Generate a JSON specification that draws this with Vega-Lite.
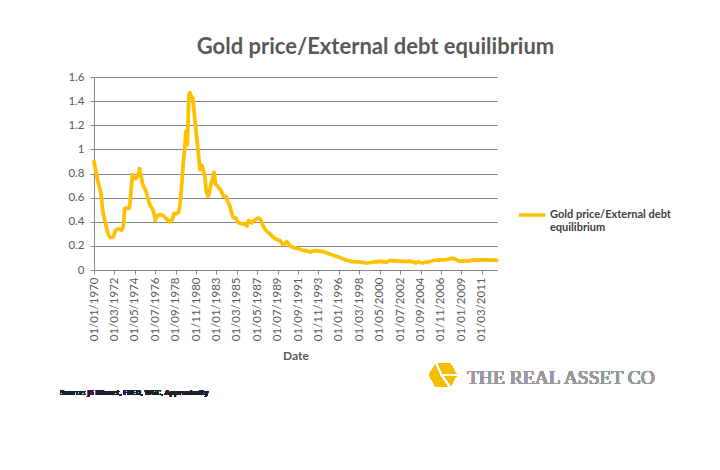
{
  "$schema": "https://vega.github.io/schema/vega-lite/v6.json",
  "autosize": {"type": "none"},
  "padding": {"left": 94, "top": 77, "right": 223, "bottom": 200},
  "width": 403,
  "height": 193,
  "background": "white",
  "config": {"view": {"stroke": null}, "font": "Lato"},
  "title": {"text": "Gold price/External debt equilibrium", "font": "Lato", "fontSize": 22, "fontWeight": "bold", "color": "#595959", "anchor": "middle", "frame": "group", "dx": 80, "offset": 12},
  "data": {"values": [
    {"date": "1970-01-01", "v": 0.90}, {"date": "1970-04-01", "v": 0.80}, {"date": "1970-07-01", "v": 0.71}, {"date": "1970-10-01", "v": 0.63},
    {"date": "1970-12-01", "v": 0.50}, {"date": "1971-02-01", "v": 0.43}, {"date": "1971-04-01", "v": 0.38}, {"date": "1971-06-01", "v": 0.32},
    {"date": "1971-08-01", "v": 0.285}, {"date": "1971-10-01", "v": 0.27}, {"date": "1971-12-01", "v": 0.27}, {"date": "1972-02-01", "v": 0.28},
    {"date": "1972-04-01", "v": 0.32}, {"date": "1972-06-01", "v": 0.335}, {"date": "1972-08-01", "v": 0.34}, {"date": "1972-10-01", "v": 0.335},
    {"date": "1972-12-01", "v": 0.33}, {"date": "1973-02-01", "v": 0.35}, {"date": "1973-03-01", "v": 0.40}, {"date": "1973-04-01", "v": 0.51},
    {"date": "1973-06-01", "v": 0.515}, {"date": "1973-08-01", "v": 0.51}, {"date": "1973-10-01", "v": 0.515}, {"date": "1973-11-01", "v": 0.56},
    {"date": "1974-01-01", "v": 0.72}, {"date": "1974-02-01", "v": 0.79}, {"date": "1974-03-01", "v": 0.77}, {"date": "1974-05-01", "v": 0.76},
    {"date": "1974-07-01", "v": 0.76}, {"date": "1974-09-01", "v": 0.79}, {"date": "1974-11-01", "v": 0.84}, {"date": "1975-01-01", "v": 0.78},
    {"date": "1975-03-01", "v": 0.71}, {"date": "1975-05-01", "v": 0.68}, {"date": "1975-07-01", "v": 0.66}, {"date": "1975-09-01", "v": 0.61},
    {"date": "1975-11-01", "v": 0.56}, {"date": "1976-01-01", "v": 0.53}, {"date": "1976-03-01", "v": 0.51}, {"date": "1976-05-01", "v": 0.48},
    {"date": "1976-06-01", "v": 0.45}, {"date": "1976-07-01", "v": 0.41}, {"date": "1976-08-01", "v": 0.43}, {"date": "1976-10-01", "v": 0.45},
    {"date": "1977-01-01", "v": 0.46}, {"date": "1977-04-01", "v": 0.455}, {"date": "1977-07-01", "v": 0.44}, {"date": "1977-10-01", "v": 0.42},
    {"date": "1978-01-01", "v": 0.40}, {"date": "1978-03-01", "v": 0.405}, {"date": "1978-05-01", "v": 0.42}, {"date": "1978-07-01", "v": 0.47},
    {"date": "1978-09-01", "v": 0.465}, {"date": "1978-11-01", "v": 0.47}, {"date": "1979-01-01", "v": 0.48}, {"date": "1979-03-01", "v": 0.56},
    {"date": "1979-05-01", "v": 0.72}, {"date": "1979-07-01", "v": 0.90}, {"date": "1979-09-01", "v": 1.03}, {"date": "1979-10-01", "v": 1.15},
    {"date": "1979-11-01", "v": 1.08}, {"date": "1979-12-01", "v": 1.04}, {"date": "1980-01-01", "v": 1.25}, {"date": "1980-02-01", "v": 1.46},
    {"date": "1980-03-01", "v": 1.47}, {"date": "1980-05-01", "v": 1.44}, {"date": "1980-07-01", "v": 1.42}, {"date": "1980-09-01", "v": 1.28},
    {"date": "1980-11-01", "v": 1.15}, {"date": "1981-01-01", "v": 1.03}, {"date": "1981-03-01", "v": 0.90}, {"date": "1981-04-01", "v": 0.83},
    {"date": "1981-06-01", "v": 0.87}, {"date": "1981-08-01", "v": 0.84}, {"date": "1981-10-01", "v": 0.78}, {"date": "1981-12-01", "v": 0.66},
    {"date": "1982-02-01", "v": 0.61}, {"date": "1982-04-01", "v": 0.64}, {"date": "1982-06-01", "v": 0.71}, {"date": "1982-08-01", "v": 0.76},
    {"date": "1982-10-01", "v": 0.81}, {"date": "1982-12-01", "v": 0.71}, {"date": "1983-02-01", "v": 0.70}, {"date": "1983-04-01", "v": 0.68},
    {"date": "1983-06-01", "v": 0.67}, {"date": "1983-08-01", "v": 0.64}, {"date": "1983-10-01", "v": 0.61}, {"date": "1984-01-01", "v": 0.61},
    {"date": "1984-04-01", "v": 0.56}, {"date": "1984-06-01", "v": 0.53}, {"date": "1984-08-01", "v": 0.48}, {"date": "1984-10-01", "v": 0.44},
    {"date": "1984-12-01", "v": 0.43}, {"date": "1985-02-01", "v": 0.43}, {"date": "1985-04-01", "v": 0.40}, {"date": "1985-06-01", "v": 0.39},
    {"date": "1985-09-01", "v": 0.385}, {"date": "1985-12-01", "v": 0.38}, {"date": "1986-02-01", "v": 0.38}, {"date": "1986-04-01", "v": 0.365},
    {"date": "1986-06-01", "v": 0.41}, {"date": "1986-08-01", "v": 0.40}, {"date": "1986-10-01", "v": 0.39}, {"date": "1987-01-01", "v": 0.41},
    {"date": "1987-04-01", "v": 0.425}, {"date": "1987-07-01", "v": 0.43}, {"date": "1987-09-01", "v": 0.42}, {"date": "1987-11-01", "v": 0.39},
    {"date": "1988-01-01", "v": 0.36}, {"date": "1988-04-01", "v": 0.33}, {"date": "1988-07-01", "v": 0.31}, {"date": "1988-10-01", "v": 0.295},
    {"date": "1989-01-01", "v": 0.275}, {"date": "1989-04-01", "v": 0.26}, {"date": "1989-07-01", "v": 0.25}, {"date": "1989-10-01", "v": 0.245},
    {"date": "1990-01-01", "v": 0.215}, {"date": "1990-03-01", "v": 0.21}, {"date": "1990-05-01", "v": 0.225}, {"date": "1990-07-01", "v": 0.235},
    {"date": "1990-09-01", "v": 0.215}, {"date": "1990-12-01", "v": 0.195}, {"date": "1991-04-01", "v": 0.185}, {"date": "1991-08-01", "v": 0.18},
    {"date": "1991-12-01", "v": 0.17}, {"date": "1992-04-01", "v": 0.162}, {"date": "1992-08-01", "v": 0.16}, {"date": "1992-12-01", "v": 0.148},
    {"date": "1993-03-01", "v": 0.155}, {"date": "1993-06-01", "v": 0.16}, {"date": "1993-10-01", "v": 0.158}, {"date": "1994-02-01", "v": 0.155},
    {"date": "1994-06-01", "v": 0.15}, {"date": "1994-10-01", "v": 0.14}, {"date": "1995-02-01", "v": 0.13}, {"date": "1995-06-01", "v": 0.122},
    {"date": "1995-10-01", "v": 0.112}, {"date": "1996-02-01", "v": 0.103}, {"date": "1996-06-01", "v": 0.093}, {"date": "1996-10-01", "v": 0.083},
    {"date": "1997-02-01", "v": 0.077}, {"date": "1997-07-01", "v": 0.07}, {"date": "1997-12-01", "v": 0.068}, {"date": "1998-05-01", "v": 0.065},
    {"date": "1998-10-01", "v": 0.06}, {"date": "1999-02-01", "v": 0.058}, {"date": "1999-06-01", "v": 0.062}, {"date": "1999-10-01", "v": 0.067},
    {"date": "2000-02-01", "v": 0.07}, {"date": "2000-06-01", "v": 0.072}, {"date": "2000-10-01", "v": 0.068}, {"date": "2001-01-01", "v": 0.065},
    {"date": "2001-04-01", "v": 0.073}, {"date": "2001-07-01", "v": 0.08}, {"date": "2001-11-01", "v": 0.076}, {"date": "2002-03-01", "v": 0.075},
    {"date": "2002-07-01", "v": 0.074}, {"date": "2002-11-01", "v": 0.072}, {"date": "2003-03-01", "v": 0.071}, {"date": "2003-07-01", "v": 0.074},
    {"date": "2003-11-01", "v": 0.068}, {"date": "2004-03-01", "v": 0.058}, {"date": "2004-06-01", "v": 0.067}, {"date": "2004-09-01", "v": 0.062},
    {"date": "2005-01-01", "v": 0.06}, {"date": "2005-05-01", "v": 0.066}, {"date": "2005-09-01", "v": 0.07}, {"date": "2006-01-01", "v": 0.077},
    {"date": "2006-05-01", "v": 0.082}, {"date": "2006-09-01", "v": 0.082}, {"date": "2007-01-01", "v": 0.083}, {"date": "2007-05-01", "v": 0.086},
    {"date": "2007-09-01", "v": 0.09}, {"date": "2008-01-01", "v": 0.098}, {"date": "2008-04-01", "v": 0.095}, {"date": "2008-07-01", "v": 0.083},
    {"date": "2008-11-01", "v": 0.073}, {"date": "2009-03-01", "v": 0.073}, {"date": "2009-07-01", "v": 0.075}, {"date": "2009-11-01", "v": 0.076},
    {"date": "2010-03-01", "v": 0.083}, {"date": "2010-07-01", "v": 0.082}, {"date": "2010-11-01", "v": 0.082}, {"date": "2011-03-01", "v": 0.083},
    {"date": "2011-07-01", "v": 0.084}, {"date": "2011-11-01", "v": 0.082}, {"date": "2012-03-01", "v": 0.082}, {"date": "2012-07-01", "v": 0.083},
    {"date": "2012-10-01", "v": 0.08}
  ]},
  "encoding": {
    "x": {
      "field": "date", "type": "temporal", "title": "Date",
      "scale": {"type": "utc", "domain": [{"year": 1970, "month": 1, "date": 1, "utc": true}, {"year": 2012, "month": 10, "date": 15, "utc": true}], "nice": false},
      "axis": {
        "values": [
          {"year": 1970, "month": 1, "date": 1, "utc": true}, {"year": 1972, "month": 3, "date": 1, "utc": true},
          {"year": 1974, "month": 5, "date": 1, "utc": true}, {"year": 1976, "month": 7, "date": 1, "utc": true},
          {"year": 1978, "month": 9, "date": 1, "utc": true}, {"year": 1980, "month": 11, "date": 1, "utc": true},
          {"year": 1983, "month": 1, "date": 1, "utc": true}, {"year": 1985, "month": 3, "date": 1, "utc": true},
          {"year": 1987, "month": 5, "date": 1, "utc": true}, {"year": 1989, "month": 7, "date": 1, "utc": true},
          {"year": 1991, "month": 9, "date": 1, "utc": true}, {"year": 1993, "month": 11, "date": 1, "utc": true},
          {"year": 1996, "month": 1, "date": 1, "utc": true}, {"year": 1998, "month": 3, "date": 1, "utc": true},
          {"year": 2000, "month": 5, "date": 1, "utc": true}, {"year": 2002, "month": 7, "date": 1, "utc": true},
          {"year": 2004, "month": 9, "date": 1, "utc": true}, {"year": 2006, "month": 11, "date": 1, "utc": true},
          {"year": 2009, "month": 1, "date": 1, "utc": true}, {"year": 2011, "month": 3, "date": 1, "utc": true}
        ],
        "labelExpr": "utcFormat(datum.value, '%d/%m/%Y')", "labelAngle": 270, "labelFont": "Lato", "labelFontSize": 11.5,
        "labelColor": "#595959", "labelPadding": 3, "labelOverlap": false, "labelFlush": false, "grid": false,
        "domainColor": "#868686", "tickColor": "#868686", "tickSize": 4,
        "titleFont": "Lato", "titleFontSize": 12, "titleFontWeight": "bold", "titleColor": "#595959", "titlePadding": 10
      }
    },
    "y": {
      "field": "v", "type": "quantitative", "title": null,
      "scale": {"domain": [0, 1.6], "nice": false},
      "axis": {
        "values": [0, 0.2, 0.4, 0.6, 0.8, 1, 1.2, 1.4, 1.6], "format": "~g",
        "labelFont": "Lato", "labelFontSize": 11.5, "labelColor": "#595959", "labelPadding": 6,
        "gridColor": "#868686", "gridWidth": 1, "domainColor": "#868686", "tickColor": "#868686", "tickSize": 4
      }
    }
  },
  "layer": [
    {
      "mark": {"type": "line", "strokeWidth": 3.75, "strokeJoin": "round", "strokeCap": "round", "clip": false},
      "encoding": {
        "color": {
          "datum": "Gold price/External debt equilibrium",
          "scale": {"range": ["#FFC000"]},
          "legend": {
            "orient": "none", "legendX": 423, "legendY": 123, "title": null,
            "symbolType": "stroke", "symbolStrokeWidth": 3.5, "symbolSize": 700,
            "labelFont": "Lato", "labelFontSize": 11, "labelFontWeight": "bold", "labelColor": "#404040",
            "labelExpr": "['Gold price/External debt', 'equilibrium']", "labelLimit": 300, "labelOffset": 3
          }
        }
      }
    },
    {
      "mark": {"type": "text", "font": "Open Sans", "fontSize": 7, "fontWeight": "bold", "color": "#1b1f2e", "align": "left", "baseline": "middle"},
      "encoding": {
        "x": {"datum": {"year": 1966, "month": 5, "date": 23, "utc": true}, "type": "temporal"},
        "y": {"datum": -1.02, "type": "quantitative"},
        "text": {"value": "Source: JS Minset, FRED, WGC, Approximity"}
      }
    },
    {
      "mark": {"type": "point", "filled": true, "opacity": 1, "color": "#F7BE00", "size": 760, "shape": "M-1,0L-0.5,-0.866L0.5,-0.866L1,0L0.5,0.866L-0.5,0.866Z"},
      "encoding": {
        "x": {"datum": {"year": 2007, "month": 1, "date": 19, "utc": true}, "type": "temporal"},
        "y": {"datum": -0.87, "type": "quantitative"}
      }
    },
    {
      "mark": {"type": "point", "filled": false, "opacity": 1, "color": "white", "strokeWidth": 1.5, "size": 760, "shape": "M-0.1,0L-0.5,-0.866M-0.1,0L0.5,0.866M-0.1,0L1,0"},
      "encoding": {
        "x": {"datum": {"year": 2007, "month": 1, "date": 19, "utc": true}, "type": "temporal"},
        "y": {"datum": -0.87, "type": "quantitative"}
      }
    },
    {
      "mark": {"type": "text", "font": "Liberation Serif", "fontSize": 19.5, "fontWeight": "normal", "color": "#9a9a9a", "align": "left", "baseline": "alphabetic"},
      "encoding": {
        "x": {"datum": {"year": 2009, "month": 8, "date": 7, "utc": true}, "type": "temporal"},
        "y": {"datum": -0.945, "type": "quantitative"},
        "text": {"value": "THE REAL ASSET CO"}
      }
    }
  ]
}
